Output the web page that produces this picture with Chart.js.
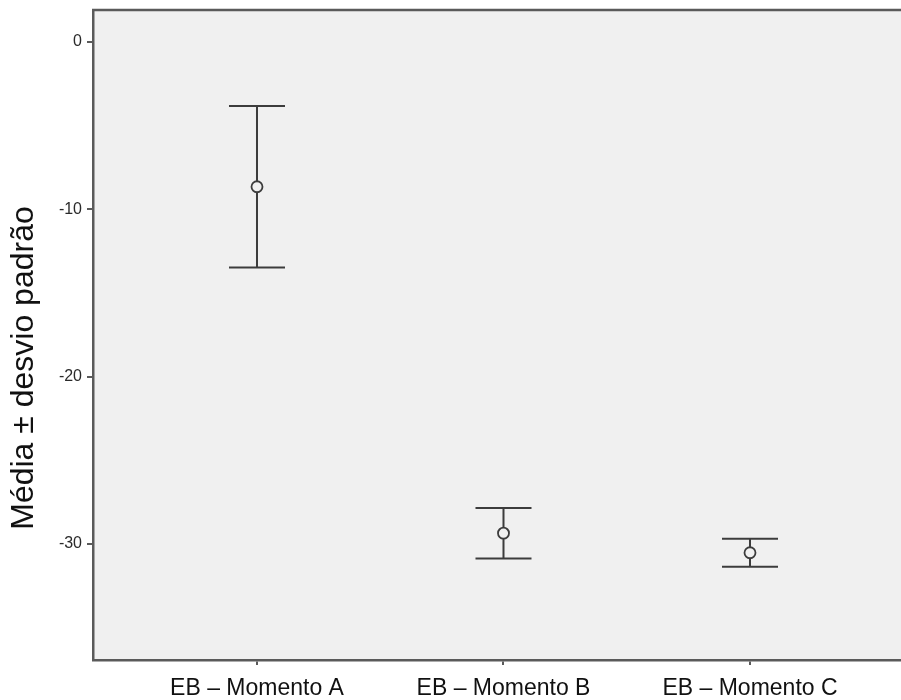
<!DOCTYPE html>
<html>
<head>
<meta charset="utf-8">
<script src="https://cdn.jsdelivr.net/npm/chart.js@4/dist/chart.umd.min.js"></script>
<style>
  html, body { margin: 0; padding: 0; background: #ffffff; }
  canvas { display: block; }
</style>
</head>
<body>
<canvas id="chart" width="901" height="700"></canvas>
<script>
// Groups and their summary statistics (mean ± standard deviation)
const categories = ['EB – Momento A', 'EB – Momento B', 'EB – Momento C'];
const means = [-8.65, -29.35, -30.52];
const sds = [4.83, 1.51, 0.84];
const yTicks = [0, -10, -20, -30];
const yTitle = 'Média ± desvio padrão';

const FONT = '"Liberation Sans", Arial, Helvetica, sans-serif';
const AXIS_COLOR = '#5a5a5a';
const MARK_COLOR = '#3c3c3c';

// Positions of groups along the x axis (1, 2, 3)
const xPos = categories.map((_, i) => i + 1);

const meanPoints = xPos.map((x, i) => ({ x: x, y: means[i] }));

// Scales should not reserve extra room for their edge labels
function noEdgePadding(scale) {
  scale.paddingTop = 0;
  scale.paddingBottom = 0;
  scale.paddingLeft = 0;
  scale.paddingRight = 0;
}

// Background panel, whiskers with caps, top frame line and y title
const errorBarPlugin = {
  id: 'errorBars',
  beforeDraw(chart) {
    const { ctx, chartArea: a } = chart;
    ctx.save();
    ctx.fillStyle = '#f0f0f0';
    ctx.fillRect(a.left, a.top, a.right - a.left, a.bottom - a.top);
    ctx.restore();
  },
  beforeDatasetsDraw(chart) {
    const { ctx, scales } = chart;
    const capHalf = 28;
    ctx.save();
    ctx.strokeStyle = MARK_COLOR;
    ctx.lineWidth = 2;
    xPos.forEach((xv, i) => {
      const px = scales.x.getPixelForValue(xv);
      const hi = scales.y.getPixelForValue(means[i] + sds[i]);
      const lo = scales.y.getPixelForValue(means[i] - sds[i]);
      ctx.beginPath();
      ctx.moveTo(px, hi);
      ctx.lineTo(px, lo);
      ctx.moveTo(px - capHalf, hi);
      ctx.lineTo(px + capHalf, hi);
      ctx.moveTo(px - capHalf, lo);
      ctx.lineTo(px + capHalf, lo);
      ctx.stroke();
    });
    ctx.restore();
  },
  afterDraw(chart) {
    const { ctx, chartArea: a } = chart;
    ctx.save();
    ctx.strokeStyle = AXIS_COLOR;
    ctx.lineWidth = 2.5;
    ctx.beginPath();
    ctx.moveTo(a.left - 1, a.top);
    ctx.lineTo(chart.width, a.top);
    ctx.stroke();

    // y axis title
    ctx.fillStyle = '#111111';
    ctx.font = '32px ' + FONT;
    ctx.textAlign = 'center';
    ctx.textBaseline = 'middle';
    ctx.translate(24, 368);
    ctx.rotate(-Math.PI / 2);
    ctx.fillText(yTitle, 0, 0);
    ctx.restore();
  }
};

Chart.defaults.font.family = FONT;

new Chart(document.getElementById('chart'), {
  type: 'scatter',
  data: {
    datasets: [{
      label: 'Média',
      data: meanPoints,
      pointStyle: 'circle',
      pointRadius: 5.5,
      pointHoverRadius: 5.5,
      pointBorderWidth: 1.8,
      borderColor: MARK_COLOR,
      backgroundColor: '#f0f0f0'
    }]
  },
  options: {
    responsive: false,
    animation: false,
    layout: {
      autoPadding: false,
      padding: { top: 10, right: 0, left: 0, bottom: 0 }
    },
    plugins: {
      legend: { display: false },
      tooltip: { enabled: false }
    },
    scales: {
      x: {
        type: 'linear',
        min: 0.3347,
        max: 3.6126,
        afterBuildTicks(scale) {
          scale.ticks = xPos.map(v => ({ value: v }));
        },
        afterFit(scale) { scale.height = 40; noEdgePadding(scale); },
        ticks: {
          autoSkip: false,
          maxRotation: 0,
          padding: 10,
          color: '#111111',
          font: { size: 23 },
          callback: (v) => categories[Math.round(v) - 1] || ''
        },
        grid: {
          drawOnChartArea: false,
          drawTicks: true,
          tickLength: 5,
          color: AXIS_COLOR,
          lineWidth: 2
        },
        border: { display: true, color: AXIS_COLOR, width: 2.5 }
      },
      y: {
        min: -36.93,
        max: 1.91,
        afterBuildTicks(scale) {
          scale.ticks = yTicks.map(v => ({ value: v }));
        },
        afterFit(scale) { scale.width = 93; noEdgePadding(scale); },
        ticks: {
          padding: 5,
          color: '#2a2a2a',
          font: { size: 16 }
        },
        grid: {
          drawOnChartArea: false,
          drawTicks: true,
          tickLength: 6,
          color: AXIS_COLOR,
          lineWidth: 2
        },
        border: { display: true, color: AXIS_COLOR, width: 2.5 }
      }
    }
  },
  plugins: [errorBarPlugin]
});
</script>
</body>
</html>
